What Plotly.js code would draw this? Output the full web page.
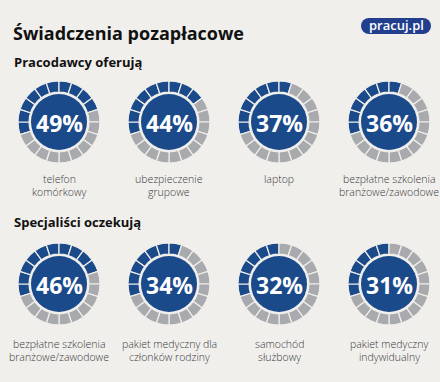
<!DOCTYPE html>
<html>
<head>
<meta charset="utf-8">
<script src="https://cdn.plot.ly/plotly-3.0.1.min.js"></script>
<style>html,body{margin:0;padding:0;background:#f0efec;}#chart{width:440px;height:382px;}</style>
</head>
<body>
<div id="chart"></div>
<script>
// ---- data ----
const chartTitle = 'Świadczenia pozapłacowe';
const groupTitles = ['Pracodawcy oferują', 'Specjaliści oczekują'];
const offeredLabels = ['telefon<br>komórkowy', 'ubezpieczenie<br>grupowe', 'laptop', 'bezpłatne szkolenia<br>branżowe/zawodowe'];
const offeredValues = [49, 44, 37, 36];
const offeredSegments = [10, 9, 7, 7];      // filled ring segments (of 20) seen in the picture
const expectedLabels = ['bezpłatne szkolenia<br>branżowe/zawodowe', 'pakiet medyczny dla<br>członków rodziny', 'samochód<br>służbowy', 'pakiet medyczny<br>indywidualny'];
const expectedValues = [46, 34, 32, 31];
const expectedSegments = [10, 7, 6, 6];
const SEGMENT_COUNT = 20;
const logoText = 'pracuj.pl';

// ---- layout constants ----
const W = 440, H = 382;
const BG = '#f0efec', BLUE = '#1b4a8b', GREY = '#a9aaad';
const colX = [59, 169, 279, 389];
const rowY = [122, 284];
const labelY = [179, 344];
const groupTitleY = [62, 222];
const R_OUT = 41, R_CORE = 28, HOLE = 0.73, LINE_GAP = 12.5;
const FONT = 'Open Sans, sans-serif';

const px = x => x / W;
const py = y => 1 - y / H;

const traces = [];
const annotations = [];
const shapes = [];

const groups = [
  {labels: offeredLabels, values: offeredValues, segs: offeredSegments},
  {labels: expectedLabels, values: expectedValues, segs: expectedSegments}
];

groups.forEach((g, r) => {
  g.values.forEach((v, c) => {
    const cx = colX[c], cy = rowY[r];
    const segVals = [], segCols = [];
    for (let i = 0; i < SEGMENT_COUNT; i++) {
      segVals.push(1);
      segCols.push(i < g.segs[c] ? BLUE : GREY);
    }
    traces.push({
      type: 'pie', values: segVals, sort: false, direction: 'clockwise', rotation: -108,
      hole: HOLE, textinfo: 'none', hoverinfo: 'skip', showlegend: false,
      marker: {colors: segCols, line: {color: BG, width: 1.2}},
      domain: {x: [px(cx - R_OUT), px(cx + R_OUT)], y: [py(cy + R_OUT), py(cy - R_OUT)]}
    });
    traces.push({
      type: 'pie', values: [v], sort: false, textinfo: 'none', hoverinfo: 'skip', showlegend: false,
      marker: {colors: [BLUE], line: {width: 0}},
      domain: {x: [px(cx - R_CORE), px(cx + R_CORE)], y: [py(cy + R_CORE), py(cy - R_CORE)]}
    });
    annotations.push({
      xref: 'paper', yref: 'paper', x: px(cx), y: py(cy + 1), xanchor: 'center', yanchor: 'middle',
      text: v + '%', showarrow: false,
      font: {family: FONT, size: 23, color: '#ffffff', weight: 700}
    });
    g.labels[c].split('<br>').forEach((line, k) => {
      annotations.push({
        xref: 'paper', yref: 'paper', x: px(cx), y: py(labelY[r] + k * LINE_GAP), xanchor: 'center', yanchor: 'middle',
        text: line, showarrow: false,
        font: {family: FONT, size: 10.5, color: '#3a3a3a', weight: 300}
      });
    });
  });
  annotations.push({
    xref: 'paper', yref: 'paper', x: px(12), y: py(groupTitleY[r]), xanchor: 'left', yanchor: 'middle',
    text: groupTitles[r], showarrow: false,
    font: {family: FONT, size: 13, color: '#111111', weight: 700}
  });
});

annotations.push({
  xref: 'paper', yref: 'paper', x: px(11), y: py(33), xanchor: 'left', yanchor: 'middle',
  text: chartTitle, showarrow: false,
  font: {family: FONT, size: 18, color: '#111111', weight: 700}
});

// logo pill
const LX0 = 361, LX1 = 431, LY0 = 18, LY1 = 34, LR = 8, LOGO = '#213f8d';
shapes.push({type: 'rect', xref: 'paper', yref: 'paper', x0: px(LX0 + LR), x1: px(LX1 - LR), y0: py(LY1), y1: py(LY0), fillcolor: LOGO, line: {width: 0}});
shapes.push({type: 'circle', xref: 'paper', yref: 'paper', x0: px(LX0), x1: px(LX0 + 2 * LR), y0: py(LY1), y1: py(LY0), fillcolor: LOGO, line: {width: 0}});
shapes.push({type: 'circle', xref: 'paper', yref: 'paper', x0: px(LX1 - 2 * LR), x1: px(LX1), y0: py(LY1), y1: py(LY0), fillcolor: LOGO, line: {width: 0}});
annotations.push({
  xref: 'paper', yref: 'paper', x: px((LX0 + LX1) / 2), y: py((LY0 + LY1) / 2 - 0.5), xanchor: 'center', yanchor: 'middle',
  text: logoText, showarrow: false,
  font: {family: FONT, size: 13, color: '#ffffff', weight: 600}
});

const layout = {
  width: W, height: H,
  margin: {l: 0, r: 0, t: 0, b: 0},
  paper_bgcolor: BG, plot_bgcolor: BG,
  showlegend: false,
  annotations: annotations,
  shapes: shapes
};

Plotly.newPlot('chart', traces, layout, {displayModeBar: false, staticPlot: true});
</script>
</body>
</html>
